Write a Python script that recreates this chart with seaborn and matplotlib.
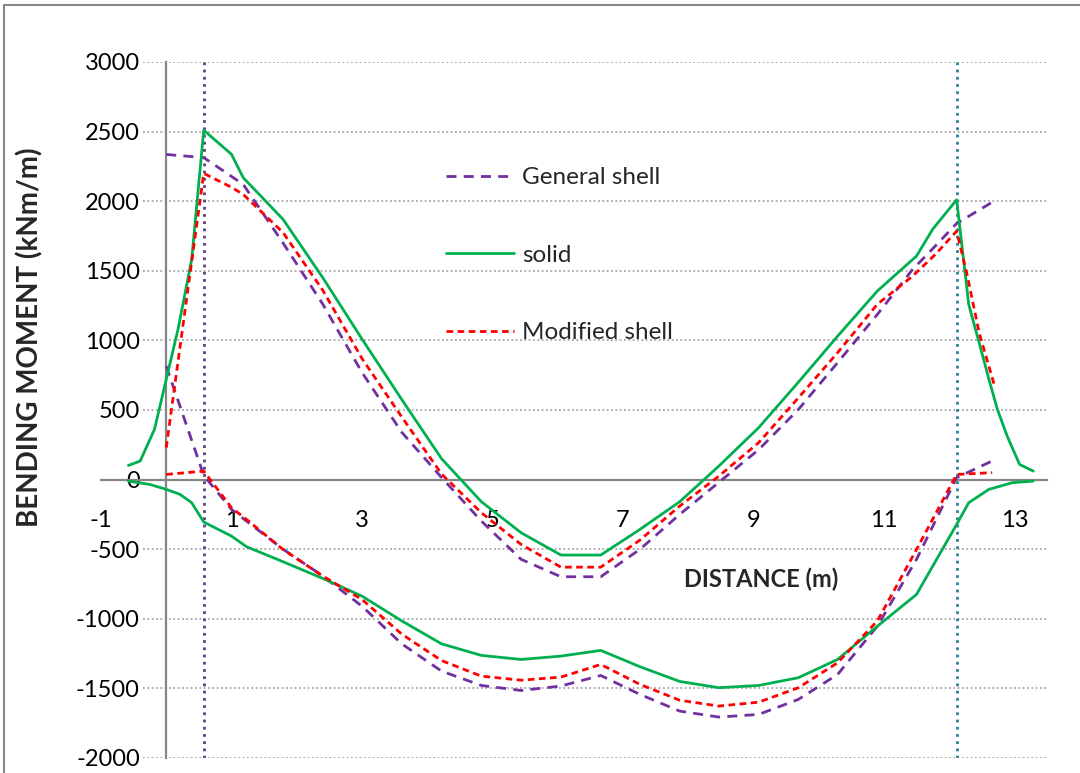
import matplotlib
matplotlib.use("Agg")
import matplotlib.pyplot as plt
from matplotlib.lines import Line2D
import seaborn as sns
import pandas as pd

# ---------------- data ----------------
series_names = ["General shell", "solid", "Modified shell"]

gen_top_x = [0.0, 0.575, 1.18, 1.79, 2.40, 3.00, 3.61, 4.22, 4.83, 5.44, 6.05, 6.66, 7.26,
             7.87, 8.47, 9.08, 9.69, 10.29, 10.90, 11.44, 11.69, 12.115, 12.69]
gen_top_y = [2336, 2313, 2121, 1700, 1260, 770, 340, 15, -298, -573, -698, -698, -501,
             -250, -20, 215, 504, 840, 1187, 1510, 1630, 1840, 2001]
gen_bot_x = [0.0, 0.575, 1.0, 1.23, 1.79, 2.40, 3.00, 3.61, 4.22, 4.83, 5.44, 6.05, 6.66,
             7.26, 7.87, 8.47, 9.08, 9.69, 10.29, 10.90, 11.50, 12.115, 12.71]
gen_bot_y = [815, 30, -214, -298, -500, -693, -909, -1180, -1376, -1479, -1515, -1483, -1407,
             -1543, -1663, -1706, -1687, -1579, -1400, -1053, -573, 14, 145]

sol_top_x = [-0.58, -0.40, -0.18, 0.0, 0.18, 0.39, 0.575, 1.0, 1.18, 1.79, 2.40, 3.00, 3.61,
             4.22, 4.83, 5.44, 6.05, 6.66, 7.26, 7.87, 8.47, 9.08, 9.69, 10.29, 10.90, 11.50,
             11.75, 12.115, 12.30, 12.46, 12.61, 12.74, 12.89, 13.08, 13.29]
sol_top_y = [102, 133, 361, 720, 1079, 1582, 2510, 2337, 2169, 1870, 1450, 1010, 575,
             150, -159, -382, -542, -542, -358, -159, 97, 373, 700, 1030, 1355, 1606,
             1800, 2010, 1259, 983, 720, 504, 312, 109, 61]
sol_bot_x = [-0.58, -0.25, 0.0, 0.21, 0.39, 0.575, 1.0, 1.23, 1.79, 2.40, 3.00, 3.61, 4.22,
             4.83, 5.44, 6.05, 6.66, 7.26, 7.87, 8.47, 9.08, 9.69, 10.29, 10.90, 11.50,
             12.115, 12.30, 12.61, 12.97, 13.29]
sol_bot_y = [-11, -35, -70, -106, -166, -305, -406, -482, -590, -710, -837, -1015, -1180,
             -1263, -1292, -1268, -1227, -1344, -1450, -1495, -1479, -1423, -1292, -1053, -825,
             -322, -166, -70, -22, -11]

mod_top_x = [0.0, 0.575, 1.0, 1.18, 1.79, 2.40, 3.00, 3.61, 4.22, 4.83, 5.44, 6.05, 6.66,
             7.26, 7.87, 8.47, 9.08, 9.69, 10.29, 10.90, 11.44, 11.79, 12.115, 12.28, 12.46, 12.70]
mod_top_y = [229, 2200, 2100, 2049, 1775, 1360, 870, 450, 40, -238, -466, -629, -629,
             -435, -190, 25, 265, 588, 912, 1260, 1462, 1618, 1785, 1462, 1055, 667]
mod_bot_x = [0.0, 0.575, 1.0, 1.23, 1.79, 2.40, 3.00, 3.61, 4.22, 4.83, 5.44, 6.05, 6.66,
             7.26, 7.87, 8.47, 9.08, 9.69, 10.29, 10.90, 11.50, 12.115, 12.66]
mod_bot_y = [37, 61, -202, -286, -502, -693, -861, -1110, -1300, -1412, -1441, -1419, -1328,
             -1471, -1585, -1627, -1599, -1495, -1316, -1015, -502, 37, 50]

support_x = [0.575, 12.115]
x_ticks = [-1, 1, 3, 5, 7, 9, 11, 13]
y_ticks = [-2000, -1500, -1000, -500, 0, 500, 1000, 1500, 2000, 2500, 3000]

# ---------------- long table ----------------
rows = []
for name, branch, xs, ys in [
    ("General shell", "top", gen_top_x, gen_top_y),
    ("General shell", "bot", gen_bot_x, gen_bot_y),
    ("solid", "top", sol_top_x, sol_top_y),
    ("solid", "bot", sol_bot_x, sol_bot_y),
    ("Modified shell", "top", mod_top_x, mod_top_y),
    ("Modified shell", "bot", mod_bot_x, mod_bot_y),
]:
    for x, y in zip(xs, ys):
        rows.append({"x": x, "y": y, "series": name, "branch": branch})
df = pd.DataFrame(rows)

# ---------------- styling ----------------
sns.set_style("white")
plt.rcParams["font.family"] = ["Lato", "DejaVu Sans"]
plt.rcParams["axes.unicode_minus"] = False

palette = {"General shell": "#7030A0", "solid": "#00B050", "Modified shell": "#FF0000"}
dashes = {"General shell": (3.6, 2.6), "solid": "", "Modified shell": (2.4, 1.6)}

fig = plt.figure(figsize=(10.8, 7.73), dpi=100)
ax = fig.add_axes([101 / 1080, 1 - 758 / 773, (1047 - 101) / 1080, (758 - 62) / 773])

sns.lineplot(data=df, x="x", y="y", hue="series", style="series", units="branch",
             estimator=None, sort=False, palette=palette, dashes=dashes,
             hue_order=series_names, style_order=series_names, lw=2.0, ax=ax)

ax.set_xlim(-1, 13.5)
ax.set_ylim(-2000, 3000)

# gridlines (start just right of the y tick labels)
grid_color = "#A0A0A0"
for yv in y_ticks:
    if yv == 0:
        continue
    ax.plot([-0.36, 13.5], [yv, yv], color=grid_color, lw=1.2,
            linestyle=(0, (1.1, 1.5)), zorder=0.5)

# support lines
ax.axvline(support_x[0], color="#5B3F7F", lw=2.0, linestyle=(0, (1, 1.6)), zorder=1)
ax.axvline(support_x[1], color="#2E7F94", lw=2.0, linestyle=(0, (1, 1.6)), zorder=1)

# spines crossing at origin
for s in ["top", "right"]:
    ax.spines[s].set_visible(False)
ax.spines["left"].set_position(("data", 0))
ax.spines["bottom"].set_position(("data", 0))
for s in ["left", "bottom"]:
    ax.spines[s].set_color("#868686")
    ax.spines[s].set_linewidth(1.6)
    ax.spines[s].set_zorder(0.8)

ax.set_xticks(x_ticks)
ax.set_yticks(y_ticks)
ax.set_xticklabels([str(v) for v in x_ticks])
ax.set_yticklabels([str(v) for v in y_ticks])
ax.tick_params(axis="x", direction="out", length=6, width=1.6, color="#868686",
               pad=16, labelsize=17, labelcolor="black")
ax.tick_params(axis="y", direction="out", length=6, width=1.6, color="#868686",
               pad=13, labelsize=17, labelcolor="black")
ax.set_xlabel("")
ax.set_ylabel("")
ax.set_facecolor("none")

# axis titles
fig.text(761 / 1080, 1 - 579 / 773, "DISTANCE (m)", ha="center", va="center",
         fontsize=17, fontweight="bold")
fig.text(30 / 1080, 1 - 337 / 773, "BENDING MOMENT (kNm/m)", ha="center", va="center",
         rotation=90, fontsize=20, fontweight="bold")

# legend
handles, labels = ax.get_legend_handles_labels()
pairs = [(h, l) for h, l in zip(handles, labels) if l in series_names]
leg = ax.legend([p[0] for p in pairs], [p[1] for p in pairs],
                loc="upper left", bbox_to_anchor=(446 / 1080, 1 - 167 / 773),
                bbox_transform=fig.transFigure, frameon=False, fontsize=17.5,
                handlelength=2.8, handletextpad=0.33, labelspacing=2.33,
                borderpad=0, borderaxespad=0)

# chart area border (cropped)
fig.add_artist(Line2D([4 / 1080, 4 / 1080], [0, 1 - 5 / 773], color="#888888", lw=1.5,
                      transform=fig.transFigure))
fig.add_artist(Line2D([4 / 1080, 1], [1 - 5 / 773, 1 - 5 / 773], color="#888888", lw=1.5,
                      transform=fig.transFigure))

fig.savefig("out.png", dpi=100)
